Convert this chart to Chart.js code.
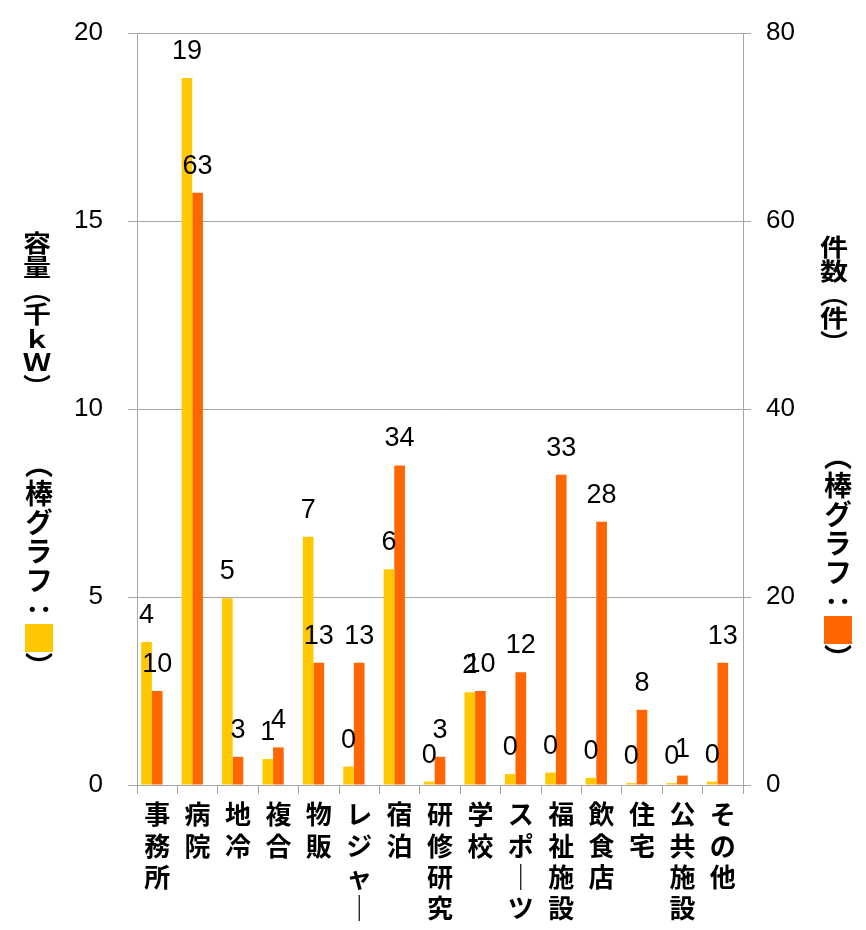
<!DOCTYPE html>
<html lang="ja">
<head>
<meta charset="utf-8">
<script src="https://cdn.jsdelivr.net/npm/chart.js@4/dist/chart.umd.min.js"></script>
<style>
  body { margin: 0; background: #fff; }
  #wrap { position: relative; width: 866px; height: 930px; }
  .vt {
    position: absolute;
    writing-mode: vertical-rl;
    text-orientation: mixed;
    font-family: "Noto Sans CJK JP", sans-serif;
    font-weight: bold;
    font-size: 28px;
    line-height: 28px;
    color: #000;
    white-space: nowrap;
  }
  .squash { transform: scaleY(0.85); transform-origin: top; }
  .sq { display: inline-block; width: 28px; height: 28px; }
</style>
</head>
<body>
<div id="wrap">
  <canvas id="chart" width="866" height="930"></canvas>
  <!-- 軸タイトル (縦書き) -->
  <div class="vt squash" style="left:23px; top:231px;">容量（千ｋＷ）</div>
  <div class="vt" style="left:25px; top:450px; letter-spacing:1px;">（棒グラフ：<span class="sq" style="background:#FFC800"></span>）</div>
  <div class="vt squash" style="left:820px; top:235px;">件数（件）</div>
  <div class="vt" style="left:824px; top:442px; letter-spacing:1px;">（棒グラフ：<span class="sq" style="background:#FF6600"></span>）</div>
</div>
<script>
// データ
const categories = ['事務所', '病院', '地冷', '複合', '物販', 'レジャー', '宿泊', '研修研究', '学校', 'スポーツ', '福祉施設', '飲食店', '住宅', '公共施設', 'その他'];
const capacity = [3.8, 18.8, 4.97, 0.69, 6.6, 0.49, 5.74, 0.09, 2.47, 0.29, 0.33, 0.19, 0.05, 0.05, 0.09]; // 千kW
const counts = [10, 63, 3, 4, 13, 13, 34, 3, 10, 12, 33, 28, 8, 1, 13]; // 件
const leftTicks = [0, 5, 10, 15, 20];
const rightTicks = [0, 20, 40, 60, 80];

const yellow = '#FFC800';
const orange = '#FF6600';
const gridColor = '#a6a6a6';
const numFont = '"Liberation Sans", Arial, sans-serif';

// 棒の上に値を描く
const valueLabels = {
    id: 'valueLabels',
    afterDatasetsDraw(chart) {
        const ctx = chart.ctx;
        ctx.save();
        ctx.font = '27px ' + numFont;
        ctx.fillStyle = '#000';
        ctx.textAlign = 'center';
        ctx.textBaseline = 'alphabetic';
        [0, 1].forEach(di => {
            const meta = chart.getDatasetMeta(di);
            meta.data.forEach((bar, i) => {
                const v = chart.data.datasets[di].data[i];
                ctx.fillText(String(Math.round(v)), bar.x, bar.y - 19);
            });
        });
        ctx.restore();
    }
};

new Chart(document.getElementById('chart'), {
    type: 'bar',
    data: {
        labels: categories,
        datasets: [
            { label: '容量', data: capacity, backgroundColor: yellow, yAxisID: 'y' },
            { label: '件数', data: counts, backgroundColor: orange, yAxisID: 'y1' },
            // 右側の空き (Excelの棒の寄せ方に合わせる)
            { label: '', data: categories.map(() => null), yAxisID: 'y' }
        ]
    },
    options: {
        responsive: false,
        animation: false,
        categoryPercentage: 0.79,
        barPercentage: 1.0,
        layout: { padding: { top: 33, left: 0, right: 0, bottom: 0 } },
        plugins: {
            legend: { display: false },
            tooltip: { enabled: false }
        },
        scales: {
            x: {
                grid: { offset: true, drawOnChartArea: false, color: gridColor, tickLength: 9 },
                border: { color: gridColor },
                ticks: {
                    autoSkip: false,
                    maxRotation: 0,
                    padding: 5,
                    color: '#000',
                    font: { family: '"Noto Sans CJK JP", sans-serif', size: 26, weight: 'bold', lineHeight: 1.2 },
                    callback: function (val) {
                        return this.getLabelForValue(val).split('').map(c => c === 'ー' ? '｜' : c);
                    }
                },
                afterFit: s => { s.height = 145; }
            },
            y: {
                position: 'left',
                min: leftTicks[0],
                max: leftTicks[leftTicks.length - 1],
                afterBuildTicks: s => { s.ticks = leftTicks.map(v => ({ value: v })); },
                grid: { color: gridColor, tickLength: 9 },
                border: { color: gridColor },
                ticks: { padding: 25, color: '#000', font: { family: numFont, size: 26, lineHeight: 1 } },
                afterFit: s => { s.width = 137; s.paddingTop = 0; }
            },
            y1: {
                position: 'right',
                min: rightTicks[0],
                max: rightTicks[rightTicks.length - 1],
                afterBuildTicks: s => { s.ticks = rightTicks.map(v => ({ value: v })); },
                grid: { drawOnChartArea: false, color: gridColor, tickLength: 8 },
                border: { color: gridColor },
                ticks: { padding: 15, color: '#000', font: { family: numFont, size: 26, lineHeight: 1 } },
                afterFit: s => { s.width = 123; s.paddingTop = 0; }
            }
        }
    },
    plugins: [valueLabels]
});
</script>
</body>
</html>
